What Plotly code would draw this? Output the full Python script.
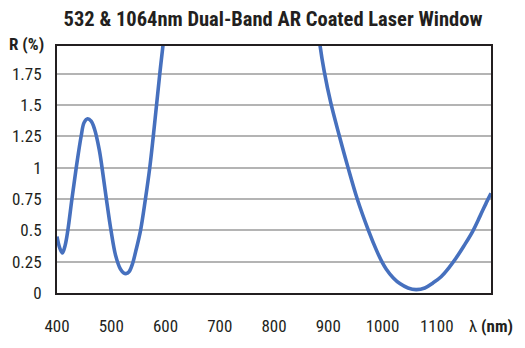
import plotly.graph_objects as go

# Wavelength (nm) and reflectance (%); None breaks the line where it leaves the top
wavelength = [400, 405, 410, 415, 420, 427.5, 435.5, 444.5, 450, 456.5, 463, 469, 478, 483, 491, 499.5, 508,
              517, 523, 528, 533, 539, 545, 554, 563, 571, 577, 583.5, 589.5, 595.5, 598,
              None,
              883, 885, 892.5, 904.5, 920, 936.5, 953.5, 974, 989, 1000, 1007, 1020, 1032, 1047, 1062, 1078, 1093,
              1108, 1123, 1135, 1150, 1166, 1180, 1193, 1200]
reflectance = [0.45, 0.36, 0.32, 0.38, 0.50, 0.75, 1.00, 1.25, 1.36, 1.39, 1.37, 1.31, 1.14, 1.00, 0.75, 0.50, 0.30,
               0.19, 0.16, 0.155, 0.17, 0.23, 0.33, 0.50, 0.75, 1.00, 1.23, 1.50, 1.75, 1.98, 2.08,
               None,
               2.05, 1.97, 1.77, 1.52, 1.26, 1.00, 0.75, 0.50, 0.34, 0.24, 0.19, 0.12, 0.075, 0.04, 0.027, 0.04, 0.08,
               0.13, 0.205, 0.275, 0.375, 0.49, 0.615, 0.735, 0.795]

x_ticks = [400, 500, 600, 700, 800, 900, 1000, 1100, 1200]
x_ticktext = ["400", "500", "600", "700", "800", "900", "1000", "1100", "λ <b>(nm)</b>"]
y_ticks = [0, 0.25, 0.5, 0.75, 1, 1.25, 1.5, 1.75]
y_ticktext = ["0", "0.25", "0.5", "0.75", "1", "1.25", "1.5", "1.75"]

FONT = "Roboto Condensed, Liberation Sans Narrow, Roboto, sans-serif"
TXT = "#231f20"

fig = go.Figure()
fig.add_trace(go.Scatter(
    x=wavelength, y=reflectance, mode="lines",
    line=dict(color="#4670BE", width=3.6, shape="spline", smoothing=1.0),
    connectgaps=False, hoverinfo="skip", showlegend=False,
))

fig.update_layout(
    width=525, height=348,
    margin=dict(l=57, r=30, t=46, b=51),
    paper_bgcolor="white", plot_bgcolor="white",
    font=dict(family=FONT, color=TXT, size=17),
    title=dict(text="<b>532 &amp; 1064nm Dual-Band AR Coated Laser Window</b>",
               x=0.52, xanchor="center", y=0.945, yanchor="middle",
               font=dict(family=FONT, size=20.5, color=TXT)),
    xaxis=dict(range=[400, 1200], tickvals=x_ticks, ticktext=x_ticktext,
               showgrid=False, zeroline=False, showline=True, linecolor="#231f20",
               linewidth=2, mirror=True, ticks="", ticklabelstandoff=17,
               tickfont=dict(family=FONT, size=17, color=TXT)),
    yaxis=dict(range=[0, 1.97], tickvals=y_ticks, ticktext=y_ticktext,
               showgrid=True, gridcolor="#b4b4b4", gridwidth=1.5,
               zeroline=False, showline=True, linecolor="#231f20",
               linewidth=2, mirror=True, ticks="", ticklabelstandoff=10,
               tickfont=dict(family=FONT, size=17, color=TXT)),
    annotations=[dict(text="<b>R (%)</b>", xref="paper", yref="paper",
                      x=-0.025, y=1.01, xanchor="right", yanchor="middle",
                      showarrow=False, font=dict(family=FONT, size=17, color=TXT))],
)

fig.write_html("out.html")
